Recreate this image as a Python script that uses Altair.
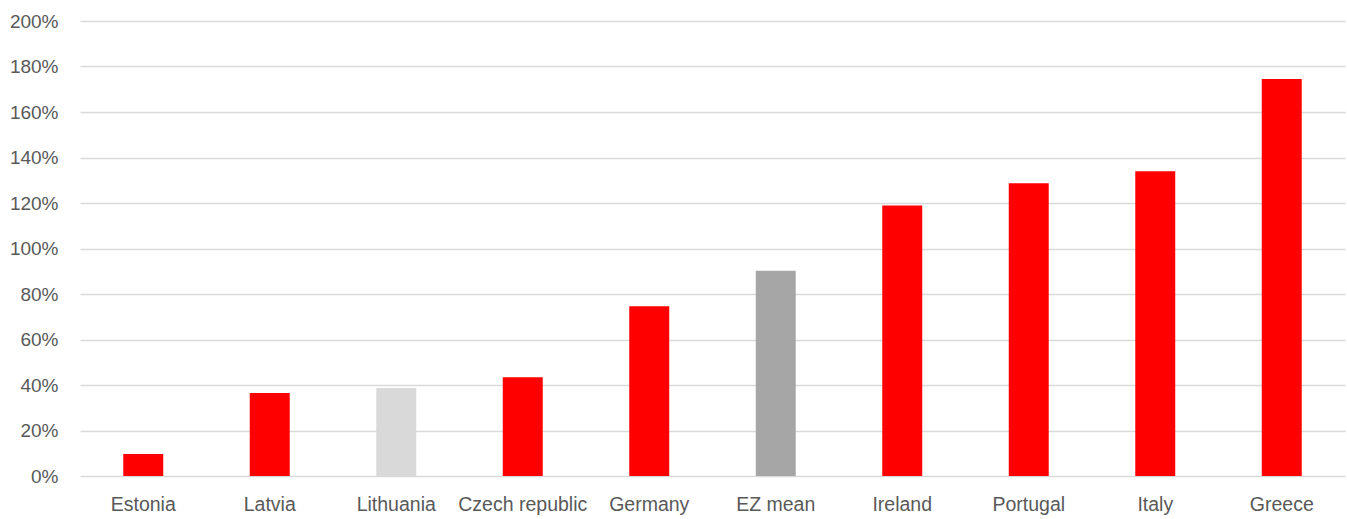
import altair as alt
import pandas as pd

countries = ["Estonia", "Latvia", "Lithuania", "Czech republic", "Germany",
             "EZ mean", "Ireland", "Portugal", "Italy", "Greece"]
values = [0.097, 0.365, 0.387, 0.434, 0.746, 0.902, 1.189, 1.287, 1.340, 1.745]
colors = ["#ff0000", "#ff0000", "#d9d9d9", "#ff0000", "#ff0000",
          "#a6a6a6", "#ff0000", "#ff0000", "#ff0000", "#ff0000"]
y_ticks = [0, 0.2, 0.4, 0.6, 0.8, 1.0, 1.2, 1.4, 1.6, 1.8, 2.0]

df = pd.DataFrame({"country": countries, "value": values, "color": colors})

chart = alt.Chart(df).mark_bar().encode(
    x=alt.X("country:N", sort=countries, title=None,
            scale=alt.Scale(paddingInner=0.684, paddingOuter=0.342),
            axis=alt.Axis(labelAngle=0, labelFontSize=19.5, labelColor="#595959",
                          labelFont="Liberation Sans", ticks=False, domain=False,
                          labelPadding=19, grid=False)),
    y=alt.Y("value:Q", title=None,
            scale=alt.Scale(domain=[0, 2], nice=False),
            axis=alt.Axis(values=y_ticks, format=".0%", labelFontSize=19,
                          labelColor="#595959", labelFont="Liberation Sans",
                          ticks=False, domain=False, labelPadding=22,
                          grid=True, gridColor="#d9d9d9", gridWidth=1.5)),
    color=alt.Color("color:N", scale=None),
).properties(
    width=1265, height=455,
    padding={"left": 80, "top": 21, "right": 2, "bottom": 43},
    autosize=alt.AutoSizeParams(type="none"),
    background="white",
).configure_view(strokeWidth=0, stroke="transparent")

chart.save("out.html", embed_options={"renderer": "svg", "actions": False})
